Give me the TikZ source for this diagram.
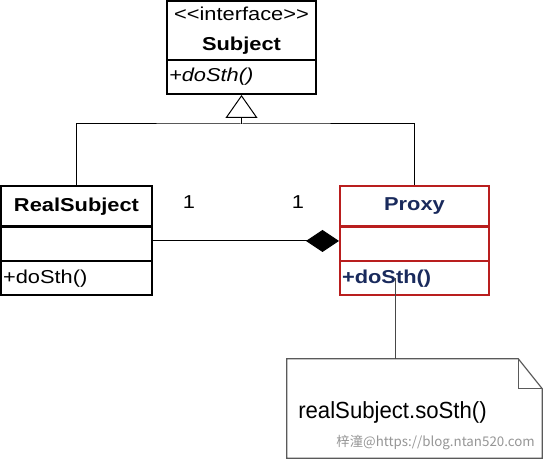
\documentclass[tikz,border=0pt]{standalone}
\usepackage{fontspec}
\setmainfont{Liberation Sans}
\newfontfamily\boxfont{Liberation Sans}[FakeStretch=1.17]
\newfontfamily\notefont{Liberation Sans}[FakeStretch=0.95]
\newfontfamily\cjkfont{Noto Sans CJK SC}
\usetikzlibrary{arrows.meta,calc}
\definecolor{pxred}{RGB}{185,30,30}
\definecolor{pxblue}{RGB}{25,42,92}
\definecolor{notegray}{RGB}{90,90,90}
\definecolor{wmgray}{RGB}{150,150,150}
\begin{document}
\begin{tikzpicture}[x=0.75pt,y=-0.75pt,
  classbox/.style={draw=black,line width=1.5pt,inner sep=0pt,
    font=\boxfont\fontsize{14pt}{17pt}\selectfont},
  proxybox/.style={classbox,draw=pxred,text=pxblue},
  opsbox/.style={inner xsep=1.5pt,inner ysep=0pt,align=left},
  link/.style={draw=black,line width=0.75pt},
  notelink/.style={draw=notegray!80!black,line width=0.75pt},
  noteline/.style={draw=notegray,line width=0.9pt},
  mult/.style={inner sep=0pt,font=\boxfont\fontsize{14pt}{17pt}\selectfont}]
\useasboundingbox (0,0) rectangle (544,460);
\fill[white] (0,0) rectangle (544,460);

% Subject (interface)
\node[classbox,minimum width=111.75pt,minimum height=44.25pt,align=center,
  font=\boxfont\fontsize{14pt}{22.5pt}\selectfont]
  (subjHead) at (241.5,30.5) {<<interface>>\\\textbf{Subject}};
\node[classbox,opsbox,text width=108.75pt,minimum height=25.5pt]
  (subjOps) at (241.5,77) {\itshape +doSth()};

% RealSubject
\node[classbox,minimum width=113.25pt,minimum height=30.4pt]
  (rsHead) at (76.5,206.25) {\bfseries RealSubject};
\node[classbox,minimum width=113.25pt,minimum height=26.25pt]
  (rsAttr) at (76.5,244) {};
\node[classbox,opsbox,text width=110.25pt,minimum height=25.5pt]
  (rsOps) at (76.5,278.5) {+doSth()};

% Proxy
\node[proxybox,minimum width=111.75pt,minimum height=30.4pt]
  (pxHead) at (414.5,206.25) {\bfseries Proxy};
\node[proxybox,minimum width=111.75pt,minimum height=26.25pt]
  (pxAttr) at (414.5,244) {};
\node[proxybox,opsbox,text width=108.75pt,minimum height=25.5pt]
  (pxOps) at (414.5,278.5) {\bfseries +doSth()};

% multiplicities
\node[mult] (m1) at (189,202) {1};
\node[mult] (m2) at (298,202) {1};

% generalization
\coordinate (hub) at (241.5,124);
\draw[link] (rsHead.north) |- (hub) -| (pxHead.north);
\draw[link,-{Triangle[open,length=17.25pt,width=24pt,line width=0.75pt]}]
  (hub) -- (subjOps.south);

% composition
\draw[link,{Diamond[length=24.75pt,width=16.5pt]}-]
  ([yshift=2.25pt]pxAttr.west) -- ([yshift=2.25pt]rsAttr.east);

% note
\node[inner sep=0pt,minimum width=191.25pt,minimum height=74.25pt]
  (note) at (414.5,408.5) {};
\draw[noteline] (note.north west) -- ([xshift=-18pt]note.north east)
  -- ([yshift=-22.5pt]note.north east) -- (note.south east)
  -- (note.south west) -- cycle;
\draw[noteline] ([xshift=-18pt]note.north east) |- ([yshift=-22.5pt]note.north east);
\node[anchor=base west,inner sep=0pt,font=\notefont\fontsize{17.5pt}{20pt}\selectfont]
  (noteText) at (298,419) {realSubject.soSth()};
\node[anchor=base east,inner sep=0pt,text=wmgray,font=\cjkfont\fontsize{10pt}{12pt}\selectfont]
  (wm) at (535,446) {梓潼@https://blog.ntan520.com};

% note anchor line
\coordinate (na) at ([xshift=-13.9pt]pxOps.center);
\draw[notelink] (na) -- (na |- note.north);
\end{tikzpicture}
\end{document}
